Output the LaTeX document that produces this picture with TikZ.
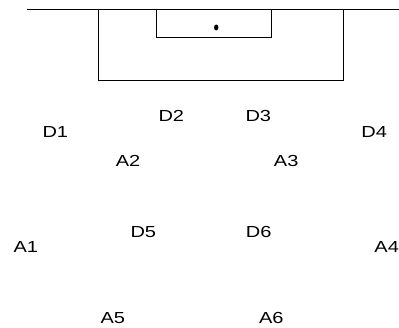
\documentclass[tikz,border=0pt]{standalone}
\usepackage{fontspec}
\setmainfont{Liberation Sans}
\tikzset{
  lbl/.style={inner sep=0pt, anchor=center, font=\fontsize{16}{16}\selectfont},
  fieldline/.style={line width=1.2pt, black}
}
\newcommand{\wlbl}[1]{\scalebox{1.25}[1]{#1}}
\begin{document}
\begin{tikzpicture}[x=1pt,y=1pt]
\useasboundingbox (0,0) rectangle (399,328);
% pitch lines (y measured from top: y_tikz = 328 - y_px)
\coordinate (gl) at (26.7,318.7);
\coordinate (gr) at (399,318.7);
\draw[fieldline] (gl) -- (gr);
\draw[fieldline] (98.7,318.7) -- (98.7,247.7) -- (343.3,247.7) -- (343.3,318.7);
\draw[fieldline] (156.3,318.7) -- (156.3,290.3) -- (271.7,290.3) -- (271.7,318.7);
\fill (216.2,300.5) ellipse (2.2 and 3);
% labels
\node[lbl] (D1) at (55.3,196) {\wlbl{D1}};
\node[lbl] (D2) at (171.3,212.5) {\wlbl{D2}};
\node[lbl] (D3) at (258.3,212.5) {\wlbl{D3}};
\node[lbl] (D4) at (374.2,196) {\wlbl{D4}};
\node[lbl] (A2) at (128,167) {\wlbl{A2}};
\node[lbl] (A3) at (286.2,167) {\wlbl{A3}};
\node[lbl] (D5) at (143.3,96.3) {\wlbl{D5}};
\node[lbl] (D6) at (258.7,96.3) {\wlbl{D6}};
\node[lbl] (A1) at (25.8,81.3) {\wlbl{A1}};
\node[lbl] (A4) at (386.7,81.3) {\wlbl{A4}};
\node[lbl] (A5) at (112.8,9.7) {\wlbl{A5}};
\node[lbl] (A6) at (271.3,9.7) {\wlbl{A6}};
\end{tikzpicture}
\end{document}
